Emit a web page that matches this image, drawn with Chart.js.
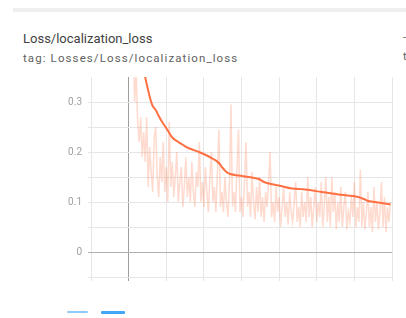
<!DOCTYPE html>
<html>
<head>
<meta charset="utf-8">
<script src="https://cdn.jsdelivr.net/npm/chart.js@4"></script>
<style>
  body { margin: 0; width: 406px; height: 318px; background: #fff; overflow: hidden; position: relative; font-family: Roboto, sans-serif; }
  #topbar { position: absolute; left: 13px; right: 0; top: 8px; height: 4px; background: #eeeeee; }
  #title { position: absolute; left: 23px; top: 31px; font-size: 13px; color: #424242; white-space: nowrap; }
  #tag { position: absolute; left: 23px; top: 51px; font-size: 11.5px; letter-spacing: 1.1px; color: #616161; white-space: nowrap; }
  .edge { position: absolute; left: 403px; font-size: 11px; color: #616161; }
  #chartWrap { position: absolute; left: 0; top: 0; width: 406px; height: 318px; }
  .btn { position: absolute; top: 311px; height: 2px; border-radius: 1px; }
</style>
</head>
<body>
<div id="topbar"></div>
<div id="title">Loss/localization_loss</div>
<div id="tag">tag: Losses/Loss/localization_loss</div>
<div class="edge" style="top:31px">-</div>
<div class="edge" style="top:50px">t</div>
<div id="chartWrap"><canvas id="lossChart" width="406" height="318"></canvas></div>
<div class="btn" style="left:67px;width:21px;background:#90caf9"></div>
<div class="btn" style="left:101px;width:24px;height:3px;background:#42a5f5"></div>
<script>
// Raw loss samples, one every RAW_STEP (steps shown in thousands)
const RAW_STEP = 0.04;
const rawValues = [
  0.46, 0.40, 0.35, 0.42, 0.30, 0.36, 0.26, 0.22, 0.27, 0.19,
  0.24, 0.18, 0.27, 0.13, 0.21, 0.16, 0.12, 0.23, 0.25, 0.15,
  0.11, 0.19, 0.14, 0.22, 0.12, 0.17, 0.10, 0.26, 0.13, 0.18,
  0.11, 0.15, 0.20, 0.10, 0.14, 0.17, 0.09, 0.13, 0.19, 0.11,
  0.15, 0.10, 0.18, 0.12, 0.09, 0.16, 0.13, 0.22, 0.10, 0.14,
  0.09, 0.17, 0.12, 0.08, 0.15, 0.20, 0.10, 0.13, 0.08, 0.16,
  0.245, 0.09, 0.12, 0.08, 0.15, 0.10, 0.07, 0.14, 0.295, 0.09,
  0.12, 0.08, 0.17, 0.245, 0.08, 0.11, 0.07, 0.14, 0.22, 0.09,
  0.12, 0.07, 0.16, 0.10, 0.065, 0.13, 0.08, 0.15, 0.07, 0.11,
  0.06, 0.12, 0.09, 0.14, 0.20, 0.07, 0.10, 0.06, 0.13, 0.08,
  0.11, 0.05, 0.09, 0.13, 0.07, 0.10, 0.055, 0.12, 0.08, 0.06,
  0.10, 0.14, 0.06, 0.09, 0.05, 0.12, 0.07, 0.10, 0.06, 0.15,
  0.07, 0.11, 0.05, 0.09, 0.13, 0.06, 0.10, 0.07, 0.14, 0.05,
  0.09, 0.15, 0.06, 0.11, 0.05, 0.15, 0.08, 0.12, 0.045, 0.10,
  0.06, 0.13, 0.05, 0.09, 0.12, 0.045, 0.08, 0.06, 0.11, 0.07,
  0.14, 0.05, 0.09, 0.06, 0.165, 0.05, 0.10, 0.045, 0.08, 0.12,
  0.05, 0.09, 0.04, 0.13, 0.06, 0.10, 0.045, 0.08, 0.14, 0.05,
  0.11, 0.04, 0.09, 0.06, 0.10
];

// Smoothed curve
const smoothSteps = [0, 0.2, 0.44, 0.58, 0.64, 0.72, 0.8, 0.9, 0.99, 1.08, 1.16, 1.3, 1.43,
  1.56, 1.69, 1.87, 2.05, 2.25, 2.4, 2.5, 2.6, 2.7, 2.93, 3.2, 3.46, 3.6, 3.72, 3.99,
  4.34, 4.69, 5.13, 5.57, 6.1, 6.25, 6.37, 6.63, 6.96];
const smoothValues = [0.55, 0.44, 0.35, 0.305, 0.292, 0.284, 0.272, 0.259, 0.249, 0.238, 0.229, 0.221, 0.215,
  0.209, 0.205, 0.2, 0.194, 0.186, 0.178, 0.168, 0.16, 0.156, 0.153, 0.15, 0.146, 0.14, 0.137, 0.133,
  0.127, 0.125, 0.12, 0.115, 0.11, 0.106, 0.102, 0.099, 0.095];

const yLabelTicks = [0, 0.1, 0.2, 0.3];

const rawPoints = rawValues.map((v, i) => ({ x: i * RAW_STEP, y: v }));
const smoothPoints = smoothSteps.map((s, i) => ({ x: s, y: smoothValues[i] }));

const ctx = document.getElementById('lossChart').getContext('2d');
new Chart(ctx, {
    type: 'line',
    data: {
        datasets: [
            {
                label: 'raw',
                data: rawPoints,
                borderColor: 'rgba(255, 112, 67, 0.26)',
                borderWidth: 1.5,
                pointRadius: 0,
                tension: 0
            },
            {
                label: 'smoothed',
                data: smoothPoints,
                borderColor: '#ff7043',
                borderWidth: 2,
                pointRadius: 0,
                cubicInterpolationMode: 'monotone'
            }
        ]
    },
    options: {
        responsive: false,
        animation: false,
        events: [],
        layout: { padding: { left: 51, right: 14, top: 77, bottom: 36 } },
        plugins: { legend: { display: false }, tooltip: { enabled: false } },
        scales: {
            x: {
                type: 'linear',
                min: -1,
                max: 7,
                ticks: { display: false, stepSize: 1 },
                border: { display: false },
                grid: {
                    tickLength: 4,
                    color: c => c.tick && c.tick.value === 0 ? '#9e9e9e' : '#e6e6e6'
                },
                afterFit: s => { s.height = 5; }
            },
            y: {
                min: -0.05,
                max: 0.35,
                ticks: {
                    stepSize: 0.05,
                    color: '#a0a0a0',
                    font: { family: 'Roboto', size: 10 },
                    padding: 6,
                    callback: v => {
                        const r = Math.round(v * 100) / 100;
                        return yLabelTicks.includes(r) ? String(r) : '';
                    }
                },
                border: { display: false },
                grid: {
                    tickLength: 3,
                    color: c => {
                        const v = Math.round(c.tick.value * 100) / 100;
                        if (v === 0.35) return 'rgba(0,0,0,0)';
                        return v === 0 ? '#b0b0b0' : '#e6e6e6';
                    }
                },
                afterFit: s => { s.width = 40; }
            }
        }
    }
});
</script>
</body>
</html>
